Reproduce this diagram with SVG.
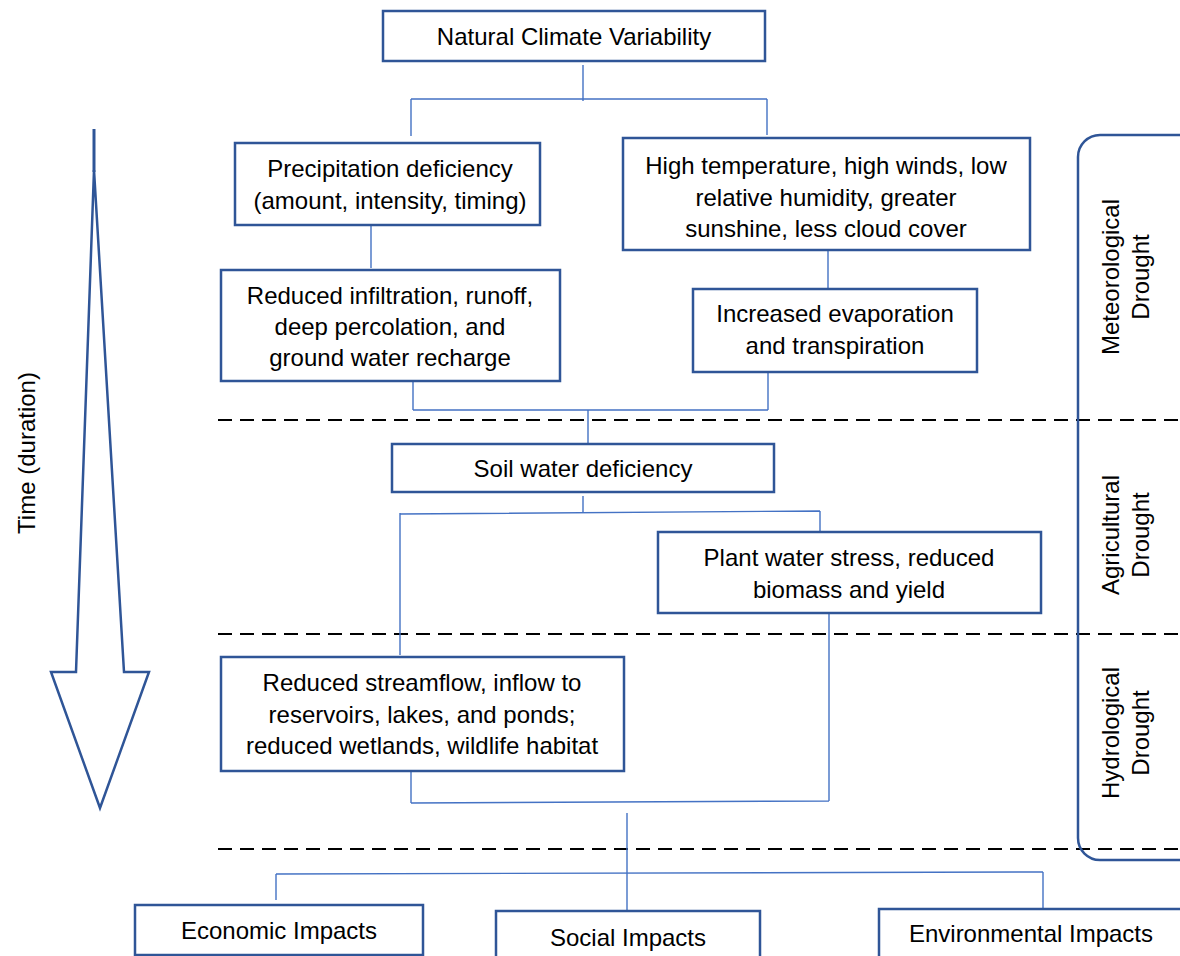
<svg xmlns="http://www.w3.org/2000/svg" width="1180" height="956" viewBox="0 0 1180 956">
<style>
.box{fill:#fff;stroke:#2F5597;stroke-width:2.5}
.t{font-family:"Liberation Sans",Arial,sans-serif;font-size:24px;fill:#000;text-anchor:middle}
.c{fill:none;stroke:#4472C4;stroke-width:1.4}
.d{fill:none;stroke:#000;stroke-width:2;stroke-dasharray:14,8}
</style>
<rect width="1180" height="956" fill="#fff"/>
<g id="separators">
<line class="d" x1="218" y1="420" x2="1180" y2="420"/>
<line class="d" x1="218" y1="634" x2="1180" y2="634"/>
<line class="d" x1="218" y1="849" x2="1180" y2="849"/>
</g>
<g id="time-arrow">
<line x1="94" y1="129" x2="94" y2="172" stroke="#2F5597" stroke-width="3"/>
<polygon points="94,170 76,672 51,672 100,808 149,672 124,672" fill="none" stroke="#2F5597" stroke-width="2.5" stroke-linejoin="miter"/>
<text class="t" transform="translate(35,453) rotate(-90)">Time (duration)</text>
</g>
<g id="drought-bracket">
<rect x="1078" y="135" width="130" height="725" rx="22" fill="none" stroke="#2F5597" stroke-width="2.5"/>
<text class="t" transform="translate(1119,277) rotate(-90)">Meteorological</text>
<text class="t" transform="translate(1149,277) rotate(-90)">Drought</text>
<text class="t" transform="translate(1119,535) rotate(-90)">Agricultural</text>
<text class="t" transform="translate(1149,535) rotate(-90)">Drought</text>
<text class="t" transform="translate(1119,733) rotate(-90)">Hydrological</text>
<text class="t" transform="translate(1149,733) rotate(-90)">Drought</text>
</g>
<g id="connectors">
<path class="c" d="M583,65 V101 M411,99 H767 M411,99 V136 M767,99 V135"/>
<path class="c" d="M371,225 V268 M828,250 V288"/>
<path class="c" d="M413,381 V410 M768,372 V410 M413,410 H768 M588,410 V443"/>
<path class="c" d="M583,496 V512 M400,514 L820,511 M400,513 V655 M820,511 V531"/>
<path class="c" d="M829,613 V801 M411,771 V803 M411,803 L829,801 M627,813 V914"/>
<path class="c" d="M276,874 L1043,872 M276,874 V900 M1043,872 V908"/>
</g>
<g id="n-natural">
<rect class="box" x="383" y="11" width="382" height="50"/>
<text class="t" x="574" y="45">Natural Climate Variability</text>
</g>
<g id="n-precip">
<rect class="box" x="235" y="143" width="305" height="82"/>
<text class="t" x="390" y="177">Precipitation deficiency</text>
<text class="t" x="390" y="209">(amount, intensity, timing)</text>
</g>
<g id="n-hightemp">
<rect class="box" x="623" y="138" width="407" height="112"/>
<text class="t" x="826" y="174">High temperature, high winds, low</text>
<text class="t" x="826" y="206">relative humidity, greater</text>
<text class="t" x="826" y="237">sunshine, less cloud cover</text>
</g>
<g id="n-infiltration">
<rect class="box" x="221" y="270" width="339" height="111"/>
<text class="t" x="390" y="304">Reduced infiltration, runoff,</text>
<text class="t" x="390" y="335">deep percolation, and</text>
<text class="t" x="390" y="366">ground water recharge</text>
</g>
<g id="n-evaporation">
<rect class="box" x="693" y="289" width="284" height="83"/>
<text class="t" x="835" y="322">Increased evaporation</text>
<text class="t" x="835" y="354">and transpiration</text>
</g>
<g id="n-soil">
<rect class="box" x="392" y="444" width="382" height="48"/>
<text class="t" x="583" y="477">Soil water deficiency</text>
</g>
<g id="n-plant">
<rect class="box" x="658" y="532" width="383" height="81"/>
<text class="t" x="849" y="566">Plant water stress, reduced</text>
<text class="t" x="849" y="598">biomass and yield</text>
</g>
<g id="n-streamflow">
<rect class="box" x="221" y="657" width="403" height="114"/>
<text class="t" x="422" y="691">Reduced streamflow, inflow to</text>
<text class="t" x="422" y="723">reservoirs, lakes, and ponds;</text>
<text class="t" x="422" y="754">reduced wetlands, wildlife habitat</text>
</g>
<g id="n-economic">
<rect class="box" x="135" y="905" width="288" height="50"/>
<text class="t" x="279" y="939">Economic Impacts</text>
</g>
<g id="n-social">
<rect class="box" x="496" y="911" width="264" height="60"/>
<text class="t" x="628" y="946">Social Impacts</text>
</g>
<g id="n-environmental">
<rect class="box" x="879" y="909" width="320" height="60"/>
<text class="t" x="1031" y="942">Environmental Impacts</text>
</g>
</svg>
